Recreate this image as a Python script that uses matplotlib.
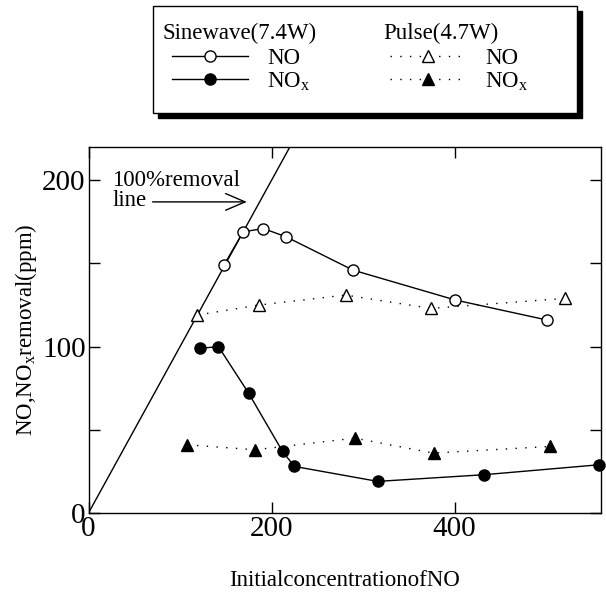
'''
NO / NOx removal against initial NO concentration, sinewave vs pulse drive.
'''
import matplotlib
matplotlib.use('Agg')
import matplotlib.pyplot as plt
from matplotlib.lines import Line2D
from matplotlib.patches import Rectangle
from matplotlib.ticker import MultipleLocator

###############################################################################

SINE_NO_X = [148, 169, 191, 216, 289, 401, 501]
SINE_NO_Y = [149, 169, 171, 166, 146, 128, 116]

SINE_NOX_X = [122, 142, 175, 212, 225, 316, 432, 558]
SINE_NOX_Y = [99, 100, 72, 37, 28, 19, 23, 29]

PULSE_NO_X = [119, 186, 281, 374, 521]
PULSE_NO_Y = [119, 125, 131, 123, 129]

PULSE_NOX_X = [108, 182, 291, 377, 504]
PULSE_NOX_Y = [41, 38, 45, 36, 40]

REMOVAL_LINE = [0, 250]

X_LIMITS = (0, 560)
Y_LIMITS = (0, 220)

###############################################################################

def dress_axes(axes):
    '''Ticks inward on every side, Times-like labels.'''
    axes.set_xlim(*X_LIMITS)
    axes.set_ylim(*Y_LIMITS)
    axes.xaxis.set_major_locator(MultipleLocator(200))
    axes.yaxis.set_major_locator(MultipleLocator(100))
    axes.yaxis.set_minor_locator(MultipleLocator(50))
    axes.tick_params(which='both', direction='in', top=True, right=True,
                     length=8, width=1, labelsize=21, pad=2)
    for spine in axes.spines.values():
        spine.set_linewidth(1)
    axes.set_xlabel('Initialconcentrationof' + 'NO', fontsize=16.5, labelpad=20)
    axes.set_ylabel(r'NO,NO$_\mathrm{x}$removal(ppm)', fontsize=16.5, labelpad=2)

###############################################################################

def draw_legend(fig):
    '''Boxed legend with a drop shadow and a heading per drive mode.'''
    x0, y0, wid, hgt = 153 / 606, 1 - 113 / 594, 424 / 606, 107 / 594
    fig.patches.append(Rectangle((x0 + 5 / 606, y0 - 5 / 594), wid, hgt,
                                 transform=fig.transFigure, facecolor='black',
                                 edgecolor='black', zorder=1))
    fig.patches.append(Rectangle((x0, y0), wid, hgt, transform=fig.transFigure,
                                 facecolor='white', edgecolor='black', lw=1,
                                 zorder=2))
    fig.text(163 / 606, 1 - 33 / 594, 'Sinewave(7.4W)', fontsize=16.5,
             va='center', ha='left', zorder=3)
    fig.text(383 / 606, 1 - 33 / 594, 'Pulse(4.7W)', fontsize=16.5,
             va='center', ha='left', zorder=3)

    sine = [Line2D([], [], color='black', lw=1, marker='o', markersize=8,
                   markerfacecolor='white', markeredgecolor='black'),
            Line2D([], [], color='black', lw=1, marker='o', markersize=8,
                   markerfacecolor='black')]
    pulse = [Line2D([], [], color='black', lw=1, ls=(0, (1, 6)), marker='^',
                    markersize=8.5, markerfacecolor='white',
                    markeredgecolor='black'),
             Line2D([], [], color='black', lw=1, ls=(0, (1, 6)), marker='^',
                    markersize=8.5, markerfacecolor='black')]
    labels = ['NO', r'NO$_\mathrm{x}$']
    for handles, left in ((sine, 172), (pulse, 390)):
        leg = fig.legend(handles, labels, loc='upper left',
                         bbox_to_anchor=(left / 606, 1 - 48 / 594),
                         frameon=False, fontsize=16.5, borderpad=0,
                         borderaxespad=0, handlelength=3.3, handletextpad=0.85,
                         labelspacing=0.05)
        leg.set_zorder(4)

###############################################################################

def main():
    '''Build the chart and write out.png'''
    plt.rcParams['font.family'] = ['Liberation Serif', 'DejaVu Serif']
    plt.rcParams['mathtext.fontset'] = 'custom'
    plt.rcParams['mathtext.rm'] = 'Liberation Serif'

    fig = plt.figure(figsize=(6.06, 5.94), dpi=100)
    axes = fig.add_axes([88.5 / 606, 1 - 513 / 594, 512.5 / 606, 366 / 594])

    axes.plot(REMOVAL_LINE, REMOVAL_LINE, color='black', lw=1)
    axes.plot(SINE_NO_X, SINE_NO_Y, color='black', lw=1, marker='o',
              markersize=8, markerfacecolor='white', markeredgecolor='black')
    axes.plot(SINE_NOX_X, SINE_NOX_Y, color='black', lw=1, marker='o',
              markersize=8, markerfacecolor='black', clip_on=False)
    axes.plot(PULSE_NO_X, PULSE_NO_Y, color='black', lw=1, ls=(0, (1, 6)),
              marker='^', markersize=8.5, markerfacecolor='white',
              markeredgecolor='black')
    axes.plot(PULSE_NOX_X, PULSE_NOX_Y, color='black', lw=1, ls=(0, (1, 6)),
              marker='^', markersize=8.5, markerfacecolor='black')

    axes.text(26, 194, '100%removal\nline', fontsize=16.5, ha='left',
              va='center', linespacing=0.95)
    axes.annotate('', xy=(173, 187), xytext=(70, 187),
                  arrowprops=dict(arrowstyle='->,head_length=0.7,head_width=0.3',
                                  mutation_scale=20, lw=1, color='black',
                                  shrinkA=0, shrinkB=0))

    dress_axes(axes)
    draw_legend(fig)
    fig.savefig('out.png', dpi=100)

###############################################################################

if __name__ == '__main__':
    main()
